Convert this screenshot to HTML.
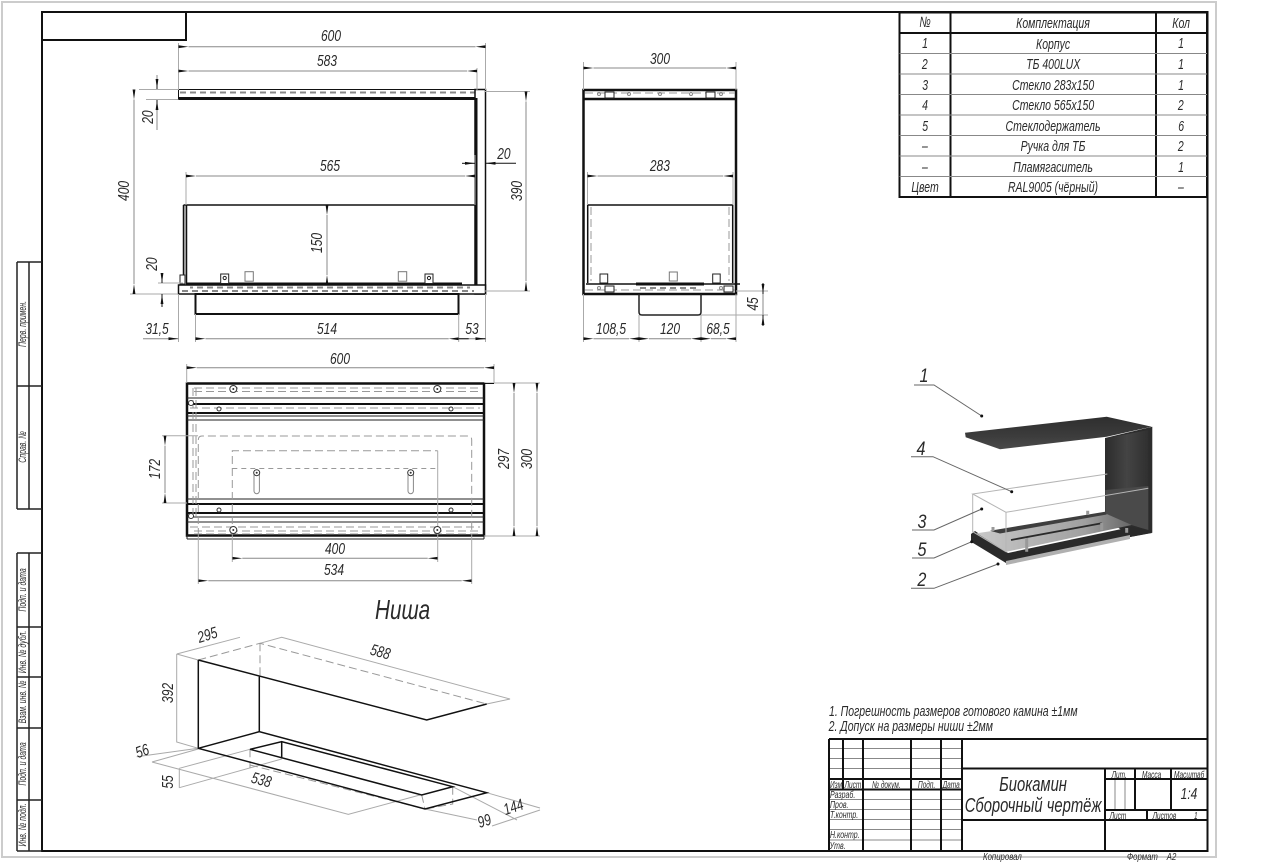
<!DOCTYPE html>
<html lang="ru"><head><meta charset="utf-8"><title>Биокамин</title>
<style>
html,body{margin:0;padding:0;background:#fff}
svg{display:block}
text{font-family:"Liberation Sans","DejaVu Sans",sans-serif;font-style:italic;fill:#2a2a2a;font-size:15px;transform-box:fill-box;transform-origin:50% 50%;transform:scaleX(.7)}
.m{text-anchor:middle}
.v{font-size:16px;transform:scaleX(.75)}
.l{transform-origin:0 50%}
.r11{font-size:11px;transform:scaleX(.63)}
.s10{font-size:10px;transform:scaleX(.7);transform-origin:0 50%}
.s9{font-size:10px;transform:scaleX(.65);transform-origin:0 50%}
.c{font-size:10px;transform:scaleX(.78);transform-origin:0 50%}
.t{font-size:20px;transform:scaleX(.74)}
.lb{font-size:19px;transform:scaleX(.85)}
.k{fill:none;stroke:#111;stroke-width:2}
.n{fill:none;stroke:#222;stroke-width:1}
.g{fill:none;stroke:#aaa;stroke-width:1}
.tl{fill:none;stroke:#888;stroke-width:1}
.d{fill:none;stroke:#888;stroke-width:1;marker-start:url(#a);marker-end:url(#a)}
.h{fill:none;stroke:#999;stroke-width:1;stroke-dasharray:8 4}
.hh{fill:none;stroke:#888;stroke-width:2;stroke-dasharray:6 4}
.s{fill:#fff;stroke:#222;stroke-width:1}
</style></head><body>
<svg width="1280" height="862" viewBox="0 0 1280 862" xmlns="http://www.w3.org/2000/svg">
<defs>
<marker id="a" viewBox="0 0 10 4" refX="0" refY="2" markerWidth="10" markerHeight="4" markerUnits="userSpaceOnUse" orient="auto-start-reverse"><path d="M0 2L10 .6V3.4Z" fill="#111"/></marker>
<marker id="o" viewBox="0 0 10 4" refX="10" refY="2" markerWidth="10" markerHeight="4" markerUnits="userSpaceOnUse" orient="auto"><path d="M10 2L0 .6V3.4Z" fill="#111"/></marker>
<linearGradient id="p" x1="0" y1="0" x2="0" y2="1"><stop offset="0" stop-color="#2e2e2e"/><stop offset=".6" stop-color="#3c3c3c"/><stop offset="1" stop-color="#4a4a4a"/></linearGradient>
<linearGradient id="q" x1="0" y1="0" x2="1" y2="0"><stop offset="0" stop-color="#2c2c2c"/><stop offset=".5" stop-color="#444"/><stop offset="1" stop-color="#303030"/></linearGradient>
<linearGradient id="u" x1="0" y1="0" x2="1" y2="0"><stop offset="0" stop-color="#c8c8c8"/><stop offset=".7" stop-color="#a0a0a0"/><stop offset="1" stop-color="#666"/></linearGradient>
</defs>
<rect width="1280" height="862" fill="#fff"/>
<rect x="2" y="2" width="1214" height="855" fill="none" stroke="#ccc" stroke-width="2"/>
<!-- sheet frame -->
<path class="k" d="M42 12H1207.500V851H42ZM42 40H186V12"/>
<path style="fill:none;stroke:#222;stroke-width:1.5" d="M17 262H42M17 386H42M17 509H42M17 553H42M17 627H42M17 677H42M17 728H42M17 800H42M17 851H42M17 262V509M17 553V851M29 262V509M29 553V851"/>
<g transform="translate(26 324) rotate(-90)"><text class="m r11">Перв. примен.</text></g>
<g transform="translate(26 447) rotate(-90)"><text class="m r11">Справ. №</text></g>
<g transform="translate(26 590) rotate(-90)"><text class="m r11">Подп. и дата</text></g>
<g transform="translate(26 652) rotate(-90)"><text class="m r11">Инв. № дубл.</text></g>
<g transform="translate(26 702) rotate(-90)"><text class="m r11">Взам. инв. №</text></g>
<g transform="translate(26 764) rotate(-90)"><text class="m r11">Подп. и дата</text></g>
<g transform="translate(26 825) rotate(-90)"><text class="m r11">Инв. № подл.</text></g>

<!-- parts table -->
<path class="k" d="M899.500 12.500H1207V197H899.500ZM899.500 33H1207M950.500 12.500V197M1156 12.500V197"/>
<path class="tl" d="M899.500 53.500H1207M899.500 74H1207M899.500 94.500H1207M899.500 115H1207M899.500 135.500H1207M899.500 156H1207M899.500 176.500H1207"/>
<text class="m" x="925" y="27">№</text><text class="m" x="1053" y="28">Комплектация</text><text class="m" x="1181" y="28">Кол</text>
<text class="m" x="925" y="48">1</text><text class="m" x="1053" y="49">Корпус</text><text class="m" x="1181" y="48">1</text>
<text class="m" x="925" y="69">2</text><text class="m" x="1053" y="69">ТБ 400LUX</text><text class="m" x="1181" y="69">1</text>
<text class="m" x="925" y="90">3</text><text class="m" x="1053" y="90">Стекло 283х150</text><text class="m" x="1181" y="90">1</text>
<text class="m" x="925" y="110">4</text><text class="m" x="1053" y="110">Стекло 565х150</text><text class="m" x="1181" y="110">2</text>
<text class="m" x="925" y="131">5</text><text class="m" x="1053" y="131">Стеклодержатель</text><text class="m" x="1181" y="131">6</text>
<text class="m" x="925" y="151">–</text><text class="m" x="1053" y="151">Ручка для ТБ</text><text class="m" x="1181" y="151">2</text>
<text class="m" x="925" y="172">–</text><text class="m" x="1053" y="172">Пламягаситель</text><text class="m" x="1181" y="172">1</text>
<text class="m" x="925" y="192">Цвет</text><text class="m" x="1053" y="192">RAL9005 (чёрный)</text><text class="m" x="1181" y="192">–</text>

<!-- front view shapes -->
<rect x="178.500" y="89.500" width="298" height="9.500" fill="#fff" stroke="#111" stroke-width="1"/>
<path d="M178.500 98.500H476" stroke="#111" stroke-width="3"/>
<path class="hh" d="M180 92.500H475"/>
<rect x="475" y="89.500" width="10.500" height="204.500" fill="#fff" stroke="#111" stroke-width="1.500"/>
<path d="M476 98V285" stroke="#111" stroke-width="3"/>
<rect x="178.500" y="285" width="307" height="9" fill="#fff" stroke="#111" stroke-width="1.500"/>
<path d="M186 284H462" stroke="#111" stroke-width="3"/>
<path class="hh" d="M182 291H474"/><path class="hh" stroke-dashoffset="3" d="M190 287.500H470"/>
<rect x="195.500" y="294" width="263" height="20" fill="none" stroke="#111" stroke-width="2"/>
<path d="M183.500 205H475M183.500 205V284M186.500 205V284" stroke="#111" stroke-width="1.500" fill="none"/>
<rect x="184" y="206" width="2" height="78" fill="#999"/>
<rect x="180" y="275" width="5" height="9" class="s"/>
<rect x="220.700" y="274" width="8" height="9.500" class="s"/><circle cx="224.700" cy="278" r="1.600" class="n"/>
<rect x="425" y="274" width="8" height="9.500" class="s"/><circle cx="429" cy="278" r="1.600" class="n"/>
<rect x="245" y="271.700" width="8.300" height="9.500" fill="#fff" stroke="#777"/><rect x="398.300" y="271.700" width="8.400" height="9.500" fill="#fff" stroke="#777"/>
<!-- front view dims -->
<path class="g" d="M178.500 43V90M485.500 43V90M477 68V90M186 172V205M475 172V205M139 89.500H178M130 294H178M146 99.500H178M485 91.500H530M485 291H530M158 283H183M178.500 294V342M485.500 294V342M195.500 314V342M458.700 314V342M475 155V175"/>
<path class="d" d="M188.500 46.700H475.500"/>
<path class="d" d="M188.500 71H467"/>
<path class="d" d="M196 176H465"/>
<path class="d" d="M327 215V275"/>
<path class="d" d="M134 99.500V284"/>
<path class="d" d="M526 101.500V281"/>
<path d="M157 75V79.500M157 109.500V130" class="tl"/>
<path d="M157 79.500V89" stroke="#111" marker-end="url(#o)"/><path d="M157 110V100" stroke="#111" marker-end="url(#o)"/>
<path d="M162 273V283" stroke="#111" marker-end="url(#o)"/><path d="M162 307V294" stroke="#111" marker-end="url(#o)"/>
<path d="M462 163.300H475" stroke="#111" marker-end="url(#o)"/><path d="M516 163.300H485.500" stroke="#111" marker-end="url(#o)"/>
<path class="d" d="M205.500 338.700H448.700"/>
<path d="M143 338.700H178.500" stroke="#888" marker-end="url(#o)"/>
<path d="M458.700 338.700H485.500" stroke="#888"/>
<path d="M468.700 338.700H458.700M475.500 338.700H485.500" stroke="#111" marker-end="url(#o)"/>
<text class="m v" x="331" y="41">600</text><text class="m v" x="327" y="66">583</text><text class="m v" x="330" y="171">565</text>
<g transform="translate(322 243) rotate(-90)"><text class="m v">150</text></g>
<g transform="translate(129 191) rotate(-90)"><text class="m v">400</text></g>
<g transform="translate(153 117) rotate(-90)"><text class="m v">20</text></g>
<g transform="translate(157 264) rotate(-90)"><text class="m v">20</text></g>
<text class="m v" x="504" y="159">20</text>
<g transform="translate(522 191) rotate(-90)"><text class="m v">390</text></g>
<text class="m v" x="157" y="334">31,5</text><text class="m v" x="327" y="334">514</text><text class="m v" x="472" y="334">53</text>

<!-- side view -->
<rect x="583.500" y="90" width="152.500" height="204" fill="#fff" stroke="#111" stroke-width="2.500"/>
<path d="M584 99H736" stroke="#111" stroke-width="2.500"/>
<path d="M585 93H735M585 290H735" class="h"/>
<rect x="605" y="92" width="9" height="6" class="s"/><rect x="706" y="92" width="9" height="6" class="s"/>
<g class="tl"><circle cx="599" cy="94" r="1.500"/><circle cx="629" cy="94" r="1.500"/><circle cx="660" cy="94" r="1.500"/><circle cx="691" cy="94" r="1.500"/><circle cx="721" cy="94" r="1.500"/><circle cx="599" cy="288" r="1.500"/><circle cx="721" cy="288" r="1.500"/></g>
<path d="M587.700 283V205H732.700V283" fill="none" stroke="#111" stroke-width="1.500"/>
<path d="M591 207V281M729 207V281" class="h"/>
<path d="M586 284H740" stroke="#111" stroke-width="1.500"/><path d="M636 284H704" stroke="#111" stroke-width="3"/>
<path d="M640 288H700" class="hh"/>
<rect x="605" y="286" width="9" height="6" class="s"/><rect x="724" y="286" width="9" height="6" class="s"/>
<rect x="600" y="274" width="7.700" height="9" class="s"/><rect x="712.700" y="274" width="7.500" height="9" class="s"/><rect x="669.300" y="272" width="8" height="9" fill="#fff" stroke="#777"/>
<path d="M639 294V312Q639 315 642 315H698Q701 315 701 312V294" style="fill:none;stroke:#222;stroke-width:1.500"/>
<path class="g" d="M583.500 62V90M736 62V90M587.500 172V205M733 172V205M583.500 294V342M639 315V342M701 315V342M736 294V342M736 291H768M701 315H768"/>
<path class="d" d="M593.500 68H726"/>
<path class="d" d="M597.500 176H723"/>
<path d="M763 283V294" stroke="#111" marker-end="url(#o)"/><path d="M763 326V315" stroke="#111" marker-end="url(#o)"/><path d="M763 294V315" stroke="#888"/>
<path class="d" d="M593.500 338.700H629"/><path class="d" d="M649 338.700H691"/><path class="d" d="M711 338.700H726"/>
<text class="m v" x="660" y="64">300</text><text class="m v" x="660" y="171">283</text>
<g transform="translate(758 304) rotate(-90)"><text class="m v">45</text></g>
<text class="m v" x="611" y="334">108,5</text><text class="m v" x="670" y="334">120</text><text class="m v" x="718" y="334">68,5</text>

<!-- top view -->
<rect x="187" y="383.500" width="297" height="152" fill="#fff" stroke="#111" stroke-width="2.500"/>
<path d="M187 398H484M187 416H484M187 420H484M187 499H484M187 517H484M187 522H484M187 539H484M187 535V539M484 535V539" class="n"/>
<path d="M187 404H484M187 413H484M187 504H484M187 513H484" stroke="#111" stroke-width="2" fill="none"/>
<path d="M194 388H480M194 391.500H480M190 408H480M190 527H480M194 531H480M194 534H480" class="h"/>
<path d="M193 388V520M196 388V520" class="h"/>
<path d="M198.300 536V440Q198.300 436 202 436H468Q471.700 436 471.700 440V536" class="h"/>
<path d="M232.300 536V450.700H437.700" class="h"/><path d="M437.700 450.700V536" class="g"/>
<path d="M232.300 468.500H437.700" class="h" style="stroke-dasharray:5 4"/>
<path d="M254 474V491a2.700 2.700 0 0 0 5.400 0V474M408 474V491a2.700 2.700 0 0 0 5.400 0V474" class="tl"/>
<g fill="#fff" stroke="#333"><circle cx="233.300" cy="389" r="3.500"/><circle cx="437.300" cy="389" r="3.500"/><circle cx="219" cy="409" r="2"/><circle cx="451" cy="409" r="2"/><circle cx="219" cy="510" r="2"/><circle cx="451" cy="510" r="2"/><circle cx="233.300" cy="530" r="3.500"/><circle cx="437.300" cy="530" r="3.500"/><circle cx="256.700" cy="472.700" r="3"/><circle cx="410.700" cy="472.700" r="3"/><circle cx="191" cy="403" r="2.500"/><circle cx="191" cy="516" r="2.500"/></g>
<g fill="#333"><circle cx="233.300" cy="389" r="1"/><circle cx="437.300" cy="389" r="1"/><circle cx="233.300" cy="530" r="1"/><circle cx="437.300" cy="530" r="1"/><circle cx="256.700" cy="472.700" r="1"/><circle cx="410.700" cy="472.700" r="1"/></g>
<path class="g" d="M494 364V383M186.700 364V383M484 383H540M484 536H540M162 435.700H198M162 503H187M232.300 536V562M437.700 536V562M198.300 536V584M471.700 536V584"/>
<path d="M484 383.500H494" stroke="#111"/>
<path class="d" d="M196.700 367.700H484"/>
<path class="d" d="M514 393V526"/>
<path class="d" d="M537 393V526"/>
<path class="d" d="M165 445.700V493"/>
<path class="d" d="M242.300 558.300H427.700"/>
<path class="d" d="M208.300 580.700H461.700"/>
<text class="m v" x="340" y="364">600</text>
<text class="m v" x="335" y="554">400</text><text class="m v" x="334" y="575">534</text>
<g transform="translate(160 469) rotate(-90)"><text class="m v">172</text></g>
<g transform="translate(509 459) rotate(-90)"><text class="m v">297</text></g>
<g transform="translate(532 459) rotate(-90)"><text class="m v">300</text></g>
<text x="375" y="619" class="l" style="font-size:28px;transform:scaleX(.74)">Ниша</text>

<!-- niche -->
<path class="g" d="M176.700 654L240 637.300M260 643.300L281.700 637.300L510 699L486.700 704M176.700 654L198.300 660M176.700 654V742L198.300 748.300M136.700 756.700L198.300 748.300M152 762L198.300 749M152 762L348.300 814.300L420 795M179.300 768.300V787.700M179.300 768.300L250 749.300M179.300 787.700L281.700 759M486.700 792.700L540 808M540 810L492 826M452.700 786.700L517 820M425 809L477 820"/>
<path class="h" d="M198.300 660L260 643.300L486.700 704M250 749.300L250 768M421.700 795L425 809M452.700 786.700V804L425 809M250 765L425 809M260 643.300V676.700"/>
<path d="M198.300 660L426.700 720L486.700 704M198.300 660V748.300L425 809L486.700 792.700L259.300 731.700L198.300 748.300M259.300 676.700V731.700M250 749.300L281.700 741.700L452.700 786.700L421.700 795L250 749.300M281.700 741.700V757.700" fill="none" stroke="#111" stroke-width="1.500"/>
<g transform="translate(209 640) rotate(-17)"><text class="m v">295</text></g>
<g transform="translate(379 657) rotate(15)"><text class="m v">588</text></g>
<g transform="translate(173 693) rotate(-90)"><text class="m v">392</text></g>
<g transform="translate(144 756) rotate(-20)"><text class="m v">56</text></g>
<g transform="translate(173 782) rotate(-90)"><text class="m v">55</text></g>
<g transform="translate(260 785) rotate(15)"><text class="m v">538</text></g>
<g transform="translate(515 812) rotate(-18)"><text class="m v">144</text></g>
<g transform="translate(486 826) rotate(-18)"><text class="m v">99</text></g>

<!-- 3D render -->
<polygon points="1105,438 1152.300,426.700 1152.300,532.700 1130,537 1105,517" fill="#2c2c2c"/>
<polygon points="1105.300,438.300 1148.300,430 1148.300,530 1105.300,517" fill="url(#q)"/>
<polygon points="1105.300,490 1148.300,486 1148.300,530 1105.300,517" fill="#4a4a4a"/>
<polygon points="965,432.700 1106.700,416.700 1151.700,426.700 1106.700,436.700 1000,449.300 965.700,437.300" fill="url(#p)"/>
<polygon points="971,534 975,531 1008,553 1131,527 1148,530 1152,533 1130,537 1006,563 971,541.700" fill="#2a2a2a"/>
<polygon points="1006,561 1130,535 1130,539 1006,565" fill="#b0b0b0"/>
<polygon points="976.700,533.300 1006.700,551.700 1131.700,525 1106.700,514" fill="url(#u)"/>
<polygon points="990,530.700 1105,511.700 1106.700,514.500 1000,533.500" fill="#3e3e3e"/>
<path d="M1011 540L1101.700 523.300" stroke="#2a2a2a" stroke-width="1.800"/>
<path d="M1026.700 538V551.700M1101.700 523V530M1126.700 528V532.700M993 527V531M1087.700 510.700V515" stroke="#999" stroke-width="3"/>
<path d="M972.700 494V531.700L1006 551.700V512.300L972.700 494L1107.300 474M1006 512.300L1148.300 488.300" fill="none" stroke="#b5b5b5" stroke-width="1"/>
<path d="M914 385H934L981.700 416M911 456.700H933L1011.700 491.700M912 530H934L981.700 509M912 558H934L971.700 541.700M911 588.300H934L998 564" fill="none" stroke="#666" stroke-width="1"/>
<g fill="#111"><circle cx="981.700" cy="416" r="1.500"/><circle cx="1011.700" cy="491.700" r="1.500"/><circle cx="981.700" cy="509" r="1.500"/><circle cx="971.700" cy="541.700" r="1.500"/><circle cx="998" cy="564" r="1.500"/></g>
<text class="m lb" x="924" y="382">1</text><text class="m lb" x="921" y="455">4</text><text class="m lb" x="922" y="528">3</text><text class="m lb" x="922" y="556">5</text><text class="m lb" x="922" y="586">2</text>

<!-- notes -->
<text x="829" y="716" class="l">1. Погрешность размеров готового камина ±1мм</text>
<text x="829" y="731" class="l">2. Допуск на размеры ниши ±2мм</text>

<!-- title block -->
<path class="tl" d="M829 748.500H962M829 758.500H962M829 768.500H962M829 799.500H962M829 809.500H962M829 819.500H962M829 829.500H962M829 840H962M1115 779V810M1125 779V810"/>
<path class="k" d="M829 739H1207M829 739V851M843 739V789M863 739V851M911 739V851M941 739V851M962 739V851M829 779H962M829 789.500H962M962 768.500H1207M1105 768.500V851M1105 779H1207M962 820H1207M1135 768.500V810M1171 768.500V810M1105 810H1207M1147 810V820"/>
<text x="830" y="788" class="s9">Изм</text><text x="845" y="788" class="s9">Лист</text><text x="872" y="788" class="s9">№ докум.</text><text x="918" y="788" class="s9">Подп.</text><text x="943" y="788" class="s9">Дата</text>
<text x="830" y="798" class="s10">Разраб.</text><text x="830" y="808" class="s10">Пров.</text><text x="830" y="818" class="s10">Т.контр.</text><text x="830" y="838" class="s10">Н.контр.</text><text x="830" y="849" class="s10">Утв.</text>
<text x="1112" y="778" class="s9">Лит.</text><text x="1142" y="778" class="s9">Масса</text><text x="1174" y="778" class="s9">Масштаб</text>
<text x="1110" y="819" class="s9">Лист</text><text x="1153" y="819" class="s9">Листов</text><text x="1194" y="819" class="s9">1</text>
<text class="m v" x="1189" y="799">1:4</text>
<text class="m t" x="1033" y="791">Биокамин</text>
<text class="m t" x="1033" y="812">Сборочный чертёж</text>
<text x="983" y="860" class="c">Копировал</text>
<text x="1127" y="860" class="c">Формат</text><text x="1167" y="860" class="c">А2</text>
</svg>
</body></html>
